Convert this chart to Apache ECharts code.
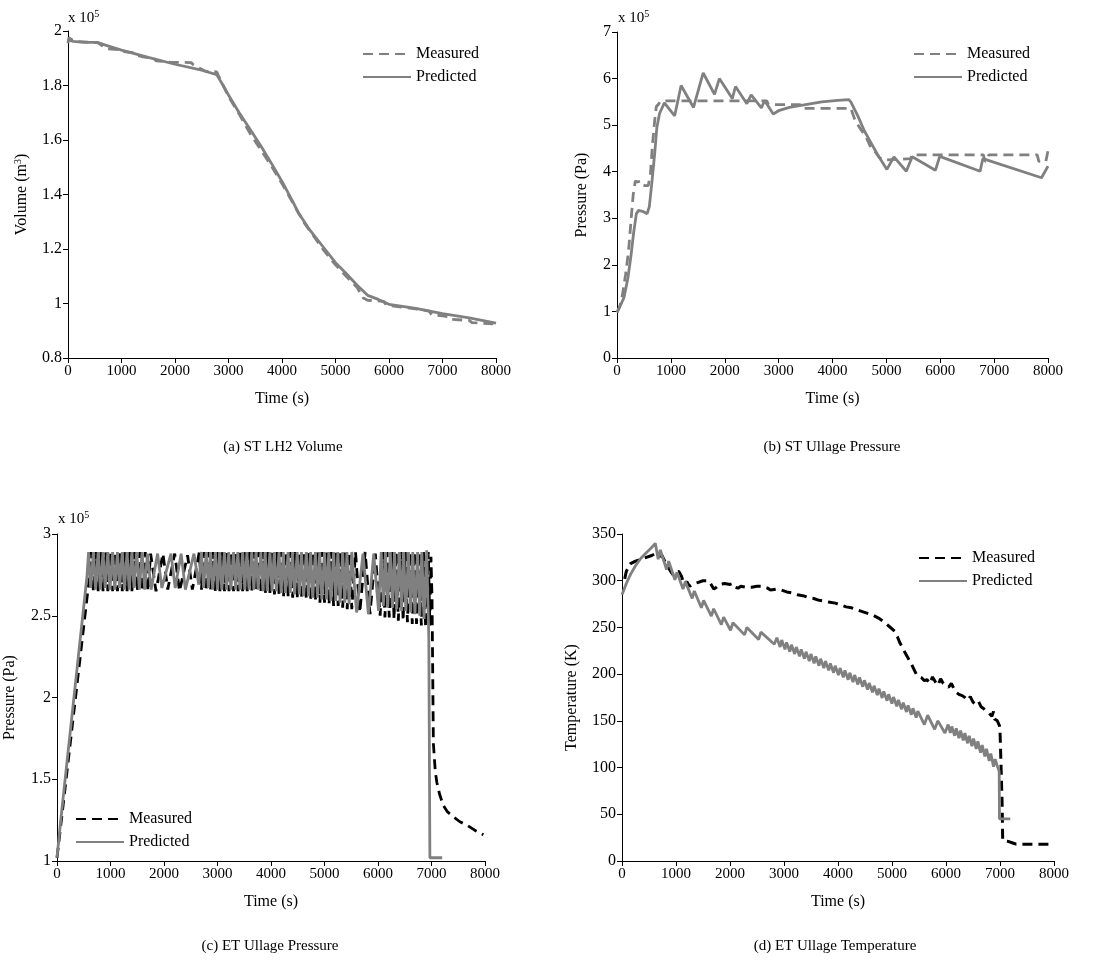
<!DOCTYPE html>
<html>
<head>
<meta charset="utf-8">
<title>Tank volume, pressure and temperature</title>
<script src="https://cdn.jsdelivr.net/npm/echarts@6/dist/echarts.min.js"></script>
<style>
  html, body { margin: 0; padding: 0; background: #fff; }
  #chart { width: 1105px; height: 966px; }
</style>
</head>
<body>
<div id="chart"></div>
<script>
// ---- (a) ST LH2 volume, x 10^5 m^3 : [time s, value] ----
const aMeasured = [[0,1.955],[15,1.975],[60,1.97],[120,1.962],[300,1.96],[560,1.957],[650,1.945],[700,1.935],[950,1.932],[1000,1.925],[1250,1.92],[1300,1.91],[1400,1.905],[1600,1.9],[1650,1.89],[1850,1.888],[1900,1.886],[2300,1.884],[2350,1.875],[2400,1.87],[2550,1.854],[2600,1.852],[2780,1.85],[2850,1.82],[3000,1.76],[3200,1.695],[3400,1.625],[3600,1.565],[3800,1.505],[4000,1.44],[4200,1.37],[4400,1.30],[4600,1.245],[4800,1.19],[5000,1.142],[5200,1.10],[5400,1.06],[5520,1.02],[5600,1.012],[5900,1.008],[5950,0.995],[6000,0.992],[6200,0.988],[6500,0.98],[6750,0.972],[6800,0.958],[7000,0.955],[7100,0.952],[7150,0.942],[7500,0.938],[7550,0.93],[7950,0.925],[8000,0.912]];
const aPredicted = [[0,1.967],[100,1.962],[300,1.958],[560,1.958],[700,1.948],[1000,1.930],[1500,1.903],[2000,1.878],[2500,1.856],[2780,1.84],[2900,1.80],[3000,1.765],[3200,1.70],[3400,1.64],[3600,1.58],[3800,1.515],[4000,1.448],[4200,1.375],[4300,1.335],[4500,1.275],[4800,1.2],[5000,1.15],[5200,1.11],[5400,1.068],[5600,1.03],[5800,1.015],[6000,0.997],[6500,0.982],[7000,0.963],[7500,0.947],[8000,0.928]];

// ---- (b) ST ullage pressure, x 10^5 Pa ----
const bMeasured = [[0,0.98],[50,1.1],[100,1.35],[160,1.8],[215,2.3],[260,2.95],[300,3.5],[340,3.8],[380,3.78],[440,3.8],[470,3.72],[520,3.7],[580,3.7],[620,3.95],[660,4.6],[700,5.1],[730,5.4],[770,5.45],[800,5.5],[900,5.52],[2780,5.52],[2810,5.44],[3400,5.44],[3430,5.36],[4340,5.36],[4420,5.1],[4530,4.9],[4620,4.75],[4700,4.55],[4780,4.45],[4870,4.3],[4960,4.25],[5450,4.28],[5480,4.36],[6800,4.36],[6830,4.22],[6870,4.25],[6900,4.36],[7800,4.36],[7830,4.22],[7960,4.22],[8000,4.45]];
const bPredicted = [[0,0.98],[60,1.12],[130,1.3],[200,1.7],[260,2.2],[310,2.7],[360,3.1],[400,3.17],[470,3.15],[560,3.1],[600,3.25],[650,3.8],[700,4.4],[740,4.95],[790,5.25],[880,5.48],[1070,5.2],[1190,5.85],[1420,5.38],[1600,6.12],[1810,5.66],[1900,6.0],[2140,5.57],[2200,5.83],[2410,5.46],[2490,5.65],[2680,5.37],[2740,5.53],[2900,5.24],[3000,5.31],[3200,5.38],[3500,5.44],[3800,5.5],[4100,5.53],[4300,5.55],[4340,5.5],[4470,5.2],[4590,4.88],[4700,4.65],[4830,4.38],[5010,4.05],[5140,4.32],[5370,4.01],[5480,4.32],[5910,4.03],[5990,4.33],[6740,4.01],[6790,4.28],[7880,3.87],[8000,4.12]];

// ---- (c) ET ullage pressure, x 10^5 Pa ----
const cMeasured = [[0,1.02],[100,1.3],[600,2.72],
  [640,2.89],[680,2.65],[730,2.89],[770,2.65],[820,2.89],[860,2.65],[910,2.89],[950,2.65],[1000,2.89],[1040,2.65],[1090,2.89],[1130,2.65],[1180,2.89],[1220,2.65],[1270,2.89],[1310,2.65],[1360,2.89],[1400,2.65],[1450,2.89],[1500,2.65],[1550,2.89],[1600,2.65],[1650,2.89],[1700,2.65],[1750,2.88],
  [1850,2.65],[1980,2.88],[2070,2.66],[2200,2.88],[2290,2.65],[2440,2.87],[2530,2.66],[2660,2.89],[2700,2.66],
  [2750,2.89],[2790,2.65],[2835,2.89],[2875,2.65],[2920,2.89],[2960,2.65],[3005,2.89],[3045,2.65],[3090,2.89],[3130,2.65],[3175,2.89],[3215,2.65],[3260,2.89],[3300,2.65],[3345,2.89],[3385,2.65],[3430,2.89],[3470,2.65],[3515,2.89],[3555,2.65],[3600,2.89],[3640,2.65],[3685,2.89],[3725,2.65],[3770,2.89],[3810,2.64],[3855,2.89],[3895,2.64],[3940,2.89],[3980,2.64],[4025,2.89],[4065,2.63],[4110,2.89],[4150,2.63],[4195,2.89],[4235,2.62],[4280,2.89],[4320,2.62],[4365,2.89],[4405,2.61],[4450,2.89],[4490,2.61],[4535,2.89],[4575,2.60],[4620,2.89],[4660,2.60],[4705,2.89],[4745,2.59],[4790,2.89],[4830,2.59],[4875,2.89],[4915,2.58],[4960,2.89],[5000,2.58],[5045,2.89],[5085,2.57],[5130,2.89],[5170,2.56],[5215,2.89],[5255,2.56],[5300,2.89],[5340,2.55],[5385,2.89],[5425,2.54],[5470,2.89],[5510,2.54],
  [5580,2.89],[5660,2.52],[5760,2.89],[5850,2.51],[5950,2.88],[6040,2.50],
  [6090,2.89],[6130,2.49],[6170,2.89],[6210,2.49],[6260,2.89],[6300,2.48],[6340,2.89],[6380,2.47],[6430,2.89],[6470,2.47],[6510,2.89],[6550,2.46],[6600,2.89],[6640,2.45],[6680,2.89],[6720,2.45],[6770,2.89],[6810,2.44],[6850,2.89],[6890,2.43],[6940,2.89],[6970,2.44],[6990,2.86],
  [7010,2.6],[7035,1.72],[7070,1.55],[7100,1.48],[7150,1.41],[7220,1.34],[7300,1.30],[7410,1.27],[7530,1.24],[7660,1.22],[7800,1.19],[7970,1.16]];
const cPredicted = [[0,1.02],[80,1.28],[560,2.74],
  [590,2.89],[630,2.67],[680,2.89],[720,2.66],[770,2.89],[810,2.66],[860,2.89],[900,2.67],[950,2.89],[990,2.66],[1040,2.89],[1080,2.66],[1130,2.89],[1170,2.67],[1220,2.89],[1260,2.66],[1310,2.89],[1350,2.66],[1400,2.89],[1440,2.67],[1490,2.89],[1540,2.66],[1590,2.89],[1640,2.66],[1690,2.88],
  [1760,2.66],[1880,2.88],[1960,2.67],[2130,2.88],[2210,2.67],[2320,2.88],[2400,2.66],[2560,2.88],[2650,2.69],
  [2700,2.89],[2740,2.67],[2790,2.89],[2830,2.67],[2870,2.89],[2910,2.66],[2960,2.89],[3000,2.66],[3040,2.89],[3080,2.66],[3130,2.89],[3170,2.66],[3210,2.89],[3250,2.66],[3300,2.89],[3340,2.66],[3380,2.89],[3420,2.66],[3470,2.89],[3510,2.66],[3550,2.89],[3590,2.66],[3640,2.89],[3680,2.66],[3720,2.89],[3760,2.66],[3810,2.89],[3850,2.65],[3890,2.89],[3930,2.65],[3980,2.89],[4020,2.65],[4060,2.89],[4100,2.65],[4150,2.89],[4190,2.64],[4230,2.89],[4270,2.64],[4320,2.89],[4360,2.64],[4400,2.89],[4440,2.63],[4490,2.89],[4530,2.63],[4570,2.89],[4610,2.62],[4660,2.89],[4700,2.62],[4740,2.89],[4780,2.61],[4830,2.89],[4870,2.61],[4910,2.89],[4950,2.60],[5000,2.89],[5040,2.60],[5080,2.89],[5120,2.59],[5170,2.89],[5210,2.59],[5250,2.89],[5290,2.58],[5340,2.89],[5380,2.58],[5420,2.89],[5460,2.57],[5510,2.89],
  [5600,2.52],[5720,2.88],[5820,2.51],[5920,2.88],[6010,2.53],
  [6060,2.89],[6100,2.56],[6140,2.89],[6180,2.55],[6230,2.89],[6270,2.55],[6310,2.89],[6350,2.54],[6400,2.89],[6440,2.53],[6480,2.89],[6520,2.53],[6570,2.89],[6610,2.52],[6650,2.89],[6690,2.51],[6740,2.89],[6780,2.50],[6820,2.89],[6860,2.48],[6910,2.90],[6950,2.36],
  [6970,1.02],[7200,1.02]];

// ---- (d) ET ullage temperature, K ----
const dMeasured = [[50,302],[80,310],[150,318],[250,321],[350,323],[450,325],[550,327],[620,329],[680,326],[740,327],[800,320],[860,314],[900,310],[950,306],[1000,309],[1050,310],[1100,305],[1150,296],[1200,299],[1250,294],[1300,296],[1400,298],[1500,300],[1600,300],[1650,296],[1700,291],[1750,293],[1800,296],[1900,297],[2000,296],[2050,297],[2100,293],[2150,292],[2200,294],[2300,293],[2400,293],[2500,294],[2600,294],[2700,292],[2750,290],[2850,291],[2950,290],[3050,288],[3150,287],[3250,285],[3350,284],[3450,282],[3550,281],[3650,279],[3750,278],[3850,277],[3950,276],[4050,274],[4150,272],[4250,271],[4350,269],[4450,267],[4550,265],[4650,263],[4750,260],[4850,256],[4950,251],[5050,246],[5100,240],[5150,233],[5200,228],[5250,222],[5300,217],[5350,212],[5400,206],[5450,200],[5500,197],[5550,196],[5600,193],[5650,194],[5700,190],[5750,197],[5800,192],[5850,188],[5900,195],[5950,190],[6000,188],[6050,186],[6100,190],[6150,184],[6200,180],[6250,178],[6300,177],[6350,175],[6400,172],[6450,176],[6500,170],[6550,168],[6600,171],[6650,165],[6700,163],[6750,160],[6800,158],[6850,155],[6880,160],[6900,152],[6950,150],[6990,145],[7000,140],[7020,100],[7040,60],[7050,22],[7150,21],[7250,19],[7300,18],[7950,18]];
const dPredicted = [[0,285],[80,297],[160,307],[250,316],[350,324],[450,330],[540,335],[617,340],
  [670,323],[709,333],[825,312],[864,321],[980,301],[1018,309],[1130,291],[1172,299],[1300,281],[1339,289],[1470,271],[1511,279],[1655,262],[1697,270],[1840,253],[1882,261],[2010,247],[2054,255],
  [2270,242],[2313,250],[2530,237],[2572,245],[2820,232],[2868,239],
  [2928,229],[2958,236.5],[3018,226.5],[3048,234],[3108,224],[3138,231.5],[3198,221.5],[3228,229],[3288,219],[3318,226.5],[3378,216.5],[3408,224],[3468,214],[3498,221.5],[3558,211.5],[3588,219],[3648,209],[3678,216.5],[3738,206.5],[3768,214],[3828,204],[3858,211.5],[3918,201.5],[3948,209],[4008,199],[4038,206.5],[4098,196.5],[4128,204],[4188,194],[4218,201.5],[4278,191.5],[4308,199],[4368,189],[4398,196.5],[4458,186.5],[4488,193.5],[4548,183.5],[4578,190.5],[4638,180.5],[4668,187.5],[4728,177.5],[4758,184.5],[4818,174.5],[4848,181.5],[4908,171.5],[4938,178.5],[4998,168.5],[5028,175.5],[5088,165.5],[5118,172.5],[5178,162.5],[5208,169.5],[5268,159.5],[5298,166.5],[5358,156.5],[5388,163.5],[5448,153.5],[5478,160.5],
  [5600,146],[5660,156],[5790,141],[5850,150],[5980,137],[6040,146],
  [6080,137],[6107,144],[6160,134],[6190,142],[6240,131.5],[6270,139.5],[6320,129],[6350,137],[6400,126],[6430,134],[6480,123],[6510,131],[6560,120],[6590,128],[6640,116],[6670,124],[6720,112],[6750,120],[6800,107],[6830,115],[6880,101],[6910,109],[6960,100],[6985,96],
  [6990,45],[7190,45]];

// axis ticks
const timeTicks = { min: 0, max: 8000, interval: 1000 };
const aTicks = { min: 0.8, max: 2, interval: 0.2 };
const bTicks = { min: 0, max: 7, interval: 1 };
const cTicks = { min: 1, max: 3, interval: 0.5 };
const dTicks = { min: 0, max: 350, interval: 50 };

const FONT = '"Liberation Serif", "Times New Roman", serif';
const GREY = '#808080';
const BLACK = '#000000';

const grids = [
  { left: 68,  top: 31,  width: 428, height: 327 },
  { left: 617, top: 32,  width: 431, height: 326 },
  { left: 57,  top: 534, width: 428, height: 327 },
  { left: 622, top: 534, width: 432, height: 327 }
];

const supRich = { sup: { fontSize: 10, fontFamily: FONT, color: BLACK, padding: [0, 0, 8, 0] } };
const plainNumber = v => String(Math.round(v * 1000) / 1000);

function xAxis(i) {
  return {
    type: 'value', gridIndex: i,
    min: timeTicks.min, max: timeTicks.max, interval: timeTicks.interval,
    name: 'Time (s)', nameLocation: 'middle', nameGap: 33,
    nameTextStyle: { fontFamily: FONT, fontSize: 16, color: BLACK },
    axisLine: { show: true, lineStyle: { color: BLACK, width: 1 } },
    axisTick: { show: true, inside: false, length: 5, lineStyle: { color: BLACK } },
    axisLabel: { fontFamily: FONT, fontSize: 15, color: BLACK, margin: 6, formatter: plainNumber },
    splitLine: { show: false }
  };
}

function yAxis(i, ticks, name, gap) {
  return {
    type: 'value', gridIndex: i,
    min: ticks.min, max: ticks.max, interval: ticks.interval,
    name: name, nameLocation: 'middle', nameGap: gap, nameRotate: 90,
    nameTextStyle: { fontFamily: FONT, fontSize: 16, color: BLACK, rich: supRich },
    axisLine: { show: true, lineStyle: { color: BLACK, width: 1 } },
    axisTick: { show: true, inside: false, length: 5, lineStyle: { color: BLACK } },
    axisLabel: { fontFamily: FONT, fontSize: 16, color: BLACK, margin: 6, formatter: plainNumber },
    splitLine: { show: false }
  };
}

function line(name, i, data, color, width, dashed, z) {
  return {
    type: 'line', name: name, xAxisIndex: i, yAxisIndex: i, data: data,
    symbol: 'none', showSymbol: false, silent: true, z: z,
    lineStyle: { color: color, width: width, type: dashed ? [10, 6] : 'solid' },
    itemStyle: { color: color }
  };
}

// legend keys show only the line sample (symbol hidden)
function legend(suffix, left, top) {
  return {
    data: ['Measured ' + suffix, 'Predicted ' + suffix],
    left: left, top: top, orient: 'vertical', padding: 0,
    itemWidth: 48, itemHeight: 14, itemGap: 7, selectedMode: false,
    itemStyle: { opacity: 0 },
    formatter: n => n.replace(/ \([a-d]\)$/, ''),
    textStyle: { fontFamily: FONT, fontSize: 16, color: BLACK }
  };
}

function text(x, y, str, size, align) {
  return {
    type: 'text', x: x, y: y, silent: true,
    style: { text: str, fontFamily: FONT, fontSize: size, fill: BLACK,
             align: align, verticalAlign: 'middle', rich: supRich }
  };
}

const option = {
  animation: false,
  backgroundColor: '#ffffff',
  grid: grids.map(g => Object.assign({ containLabel: false, outerBoundsMode: 'none' }, g)),
  xAxis: [xAxis(0), xAxis(1), xAxis(2), xAxis(3)],
  yAxis: [
    yAxis(0, aTicks, 'Volume (m{sup|3})', 37),
    yAxis(1, bTicks, 'Pressure (Pa)', 27),
    yAxis(2, cTicks, 'Pressure (Pa)', 39),
    yAxis(3, dTicks, 'Temperature (K)', 42)
  ],
  legend: [
    legend('(a)', 362, 46),
    legend('(b)', 913, 46),
    legend('(c)', 75, 811),
    legend('(d)', 918, 550)
  ],
  series: [
    line('Measured (a)', 0, aMeasured, GREY, 2.8, true, 2),
    line('Predicted (a)', 0, aPredicted, GREY, 2.8, false, 3),
    line('Measured (b)', 1, bMeasured, GREY, 2.8, true, 2),
    line('Predicted (b)', 1, bPredicted, GREY, 2.8, false, 3),
    line('Measured (c)', 2, cMeasured, BLACK, 2.8, true, 2),
    line('Predicted (c)', 2, cPredicted, GREY, 2.8, false, 3),
    line('Measured (d)', 3, dMeasured, BLACK, 3, true, 2),
    line('Predicted (d)', 3, dPredicted, GREY, 2.8, false, 3)
  ],
  graphic: [
    text(68, 18, 'x 10{sup|5}', 15, 'left'),
    text(618, 18, 'x 10{sup|5}', 15, 'left'),
    text(58, 519, 'x 10{sup|5}', 15, 'left'),
    text(283, 447, '(a) ST LH2 Volume', 15, 'center'),
    text(832, 447, '(b) ST Ullage Pressure', 15, 'center'),
    text(270, 946, '(c) ET Ullage Pressure', 15, 'center'),
    text(835, 946, '(d) ET Ullage Temperature', 15, 'center')
  ]
};

const chart = echarts.init(document.getElementById('chart'), null, { renderer: 'canvas' });
chart.setOption(option);
</script>
</body>
</html>
